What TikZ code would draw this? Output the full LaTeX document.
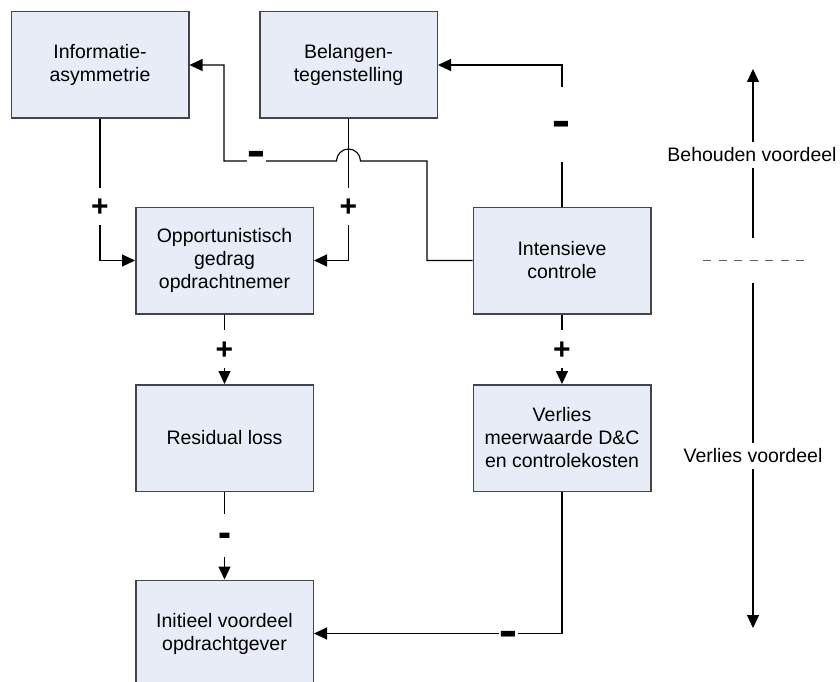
\documentclass[tikz,border=0pt]{standalone}
\usepackage{fontspec}
\setmainfont{Liberation Sans}
\usetikzlibrary{arrows.meta}
\definecolor{boxfill}{RGB}{232,236,247}
\definecolor{boxline}{RGB}{68,68,76}
\definecolor{dashline}{RGB}{96,96,96}
\newcommand{\boxfont}{\fontsize{19.5}{23}\selectfont}
\newcommand{\signfont}{\fontsize{30}{30}\selectfont\bfseries}
% heavy minus bars used as link polarity marks
\newcommand{\longminus}{\scalebox{0.95}[1.9]{–}}
\newcommand{\shortminus}{\scalebox{1.3}[1.5]{-}}
\begin{document}
\begin{tikzpicture}[x=1pt, y=-1pt,
  box/.style={draw=boxline, line width=1.5pt, fill=boxfill,
    minimum width=177.5pt, minimum height=106.5pt, inner sep=0pt,
    align=center, font=\boxfont},
  conn/.style={line width=1.1pt, -{Triangle[length=13pt,width=12pt]}},
  sign/.style={fill=white, inner xsep=2pt, inner ysep=0pt, font=\signfont},
  plussign/.style={sign, text height=20pt, text depth=0pt, minimum height=37pt},
  longminussign/.style={sign, text height=29.6pt, text depth=0pt},
  shortminussign/.style={sign, text height=23.4pt, text depth=0pt},
  axislabel/.style={fill=white, inner sep=2pt, minimum height=26pt, font=\boxfont}]

  \fill[white] (0,0) rectangle (840,682);
  \useasboundingbox (0,0) rectangle (840,682);
  \clip (0,0) rectangle (840,682);

  % boxes
  \node[box] (info)    at (100,65)      {Informatie-\\asymmetrie};
  \node[box] (belang)  at (348.5,65)    {Belangen-\\tegenstelling};
  \node[box] (opport)  at (224.5,260.5) {Opportunistisch\\gedrag\\opdrachtnemer};
  \node[box] (intens)  at (562,260.5)   {Intensieve\\controle};
  \node[box] (resid)   at (224.5,438)   {Residual loss};
  \node[box] (verlies) at (562,438)     {Verlies\\meerwaarde D\&C\\en controlekosten};
  \node[box] (init)    at (224.5,633.5) {Initieel voordeel\\opdrachtgever};

  % causal links
  \draw[conn] (info.south) |- (opport.west);
  \node[plussign] (s1) at (100,206.5) {+};

  \draw[conn] (belang.south) |- (opport.east);
  \node[plussign] (s2) at (348.5,206.5) {+};

  \draw[conn] (intens.west) -| (427,161) -- (360.5,161)
    arc[start angle=0, end angle=180, radius=12pt] -- (224,161) |- (info.east);
  \node[longminussign, minimum height=12pt] (s3) at (256.5,155) {\longminus};

  \draw[conn] (intens.north) |- (belang.east);
  \node[longminussign, minimum height=74pt] (s4) at (561,124.5) {\longminus};

  \draw[conn] (opport.south) -- (resid.north);
  \node[plussign, minimum height=38pt] (s5) at (224.5,349) {+};

  \draw[conn] (intens.south) -- (verlies.north);
  \node[plussign, minimum height=38pt] (s6) at (562,349) {+};

  \draw[conn] (resid.south) -- (init.north);
  \node[shortminussign, minimum height=43pt] (s7) at (224.5,535.5) {\shortminus};

  \draw[conn] (verlies.south) |- (init.east);
  \node[longminussign] (s8) at (508.5,634.5) {\longminus};

  % scale on the right
  \coordinate (keepS) at (753,238);
  \coordinate (keepE) at (753,69);
  \draw[conn] (keepS) -- (keepE);
  \node[axislabel] (keep) at (752,155) {Behouden voordeel};

  \coordinate (dashL) at (703,260);
  \coordinate (dashR) at (806,260);
  \draw[dashline, line width=1pt, dash pattern=on 8pt off 7.5pt] (dashL) -- (dashR);

  \coordinate (lossS) at (753,283);
  \coordinate (lossE) at (753,628);
  \draw[conn] (lossS) -- (lossE);
  \node[axislabel] (loss) at (753,455.5) {Verlies voordeel};
\end{tikzpicture}
\end{document}
